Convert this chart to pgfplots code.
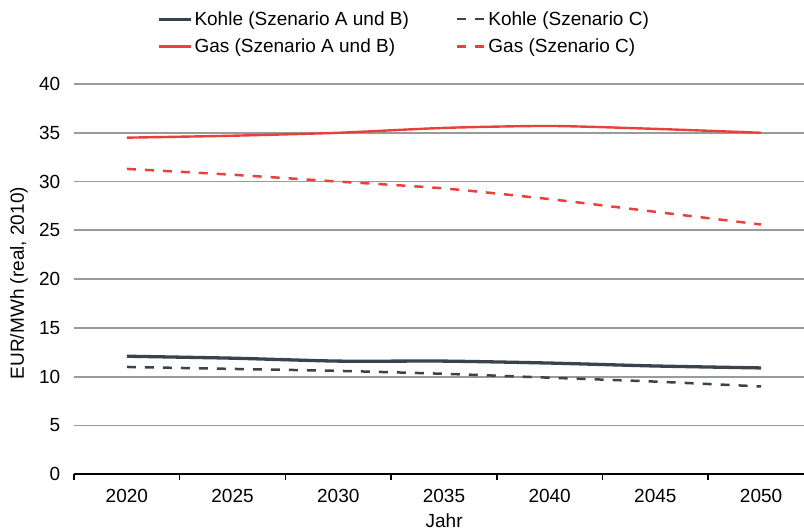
\documentclass[border=0pt]{standalone}
\usepackage{pgfplots}
\pgfplotsset{compat=1.18}
\usepackage{fontspec}
\setmainfont{Liberation Sans}
\definecolor{kohle}{HTML}{39434D}
\definecolor{gas}{HTML}{E8413B}
\definecolor{gridgray}{HTML}{9A9A9A}
\pgfplotsset{
  solidlegend/.style={legend image code/.code={\draw[##1] (0pt,0pt) -- (32pt,0pt);}},
  dashlegend/.style={legend image code/.code={\draw[##1] (0pt,0pt) -- (29pt,0pt);}},
}
\newcommand{\ff}{\fontsize{19}{22}\selectfont}
\begin{document}
\begin{tikzpicture}
\begin{axis}[
  scale only axis,
  width=730pt, height=390.3pt,
  xmin=-0.5, xmax=6.406,
  ymin=0, ymax=40,
  ytick={0,5,...,40},
  xtick={0,...,6},
  xticklabels={2020,2025,2030,2035,2040,2045,2050},
  minor xtick={-0.5,0.5,...,5.5},
  major x tick style={draw=none},
  minor x tick style={black, line width=1.5pt},
  minor tick length=6pt,
  tick align=outside,
  axis x line*=bottom,
  axis y line*=left,
  y axis line style={draw=none},
  ytick style={draw=none},
  x axis line style={black, line width=1.8pt, -},
  ymajorgrids,
  grid style={gridgray, line width=1.8pt},
  /pgf/number format/assume math mode=true,
  /pgf/number format/1000 sep={},
  tick label style={font=\ff},
  yticklabel style={xshift=-6pt},
  xticklabel style={yshift=-7.6pt},
  xlabel={Jahr},
  ylabel={EUR/MWh (real, 2010)},
  every axis x label/.style={at={(axis description cs:0.507,-0.1197)}, anchor=center, font=\ff},
  every axis y label/.style={at={(axis description cs:-0.0753,0.49)}, rotate=90, anchor=center, font=\ff},
  legend columns=2,
  legend cell align=left,
  legend style={at={(axis description cs:0.1144,1.19)}, anchor=north west,
    draw=none, fill=none, inner sep=0pt, row sep=9pt,
    font=\ff,
    nodes={inner sep=1.5pt},
    /tikz/every even column/.append style={column sep=45pt}},
  clip=false,
]
\addplot[kohle, line width=3.3pt, smooth, tension=0.4, solidlegend] coordinates {
(0,12.1) (1,11.9) (2,11.6) (3,11.6) (4,11.4) (5,11.1) (6,10.9)};
\addlegendentry{Kohle (Szenario A und B)}
\addplot[kohle, line width=2.5pt, dash pattern=on 9pt off 9pt, smooth, tension=0.4, dashlegend] coordinates {
(0,11.0) (1,10.8) (2,10.6) (3,10.3) (4,9.9) (5,9.5) (6,9.0)};
\addlegendentry{Kohle (Szenario C)}
\addplot[gas, line width=2.4pt, smooth, tension=0.4, solidlegend] coordinates {
(0,34.5) (1,34.7) (2,35.0) (3,35.5) (4,35.7) (5,35.4) (6,35.0)};
\addlegendentry{Gas (Szenario A und B)}
\addplot[gas, line width=2.5pt, dash pattern=on 9pt off 9pt, smooth, tension=0.4, dashlegend] coordinates {
(0,31.3) (1,30.7) (2,30.0) (3,29.3) (4,28.2) (5,26.9) (6,25.6)};
\addlegendentry{Gas (Szenario C)}
\end{axis}
\pgfresetboundingbox
\path (-74pt,-57.7pt) rectangle (730pt,474.3pt);
\end{tikzpicture}
\end{document}
